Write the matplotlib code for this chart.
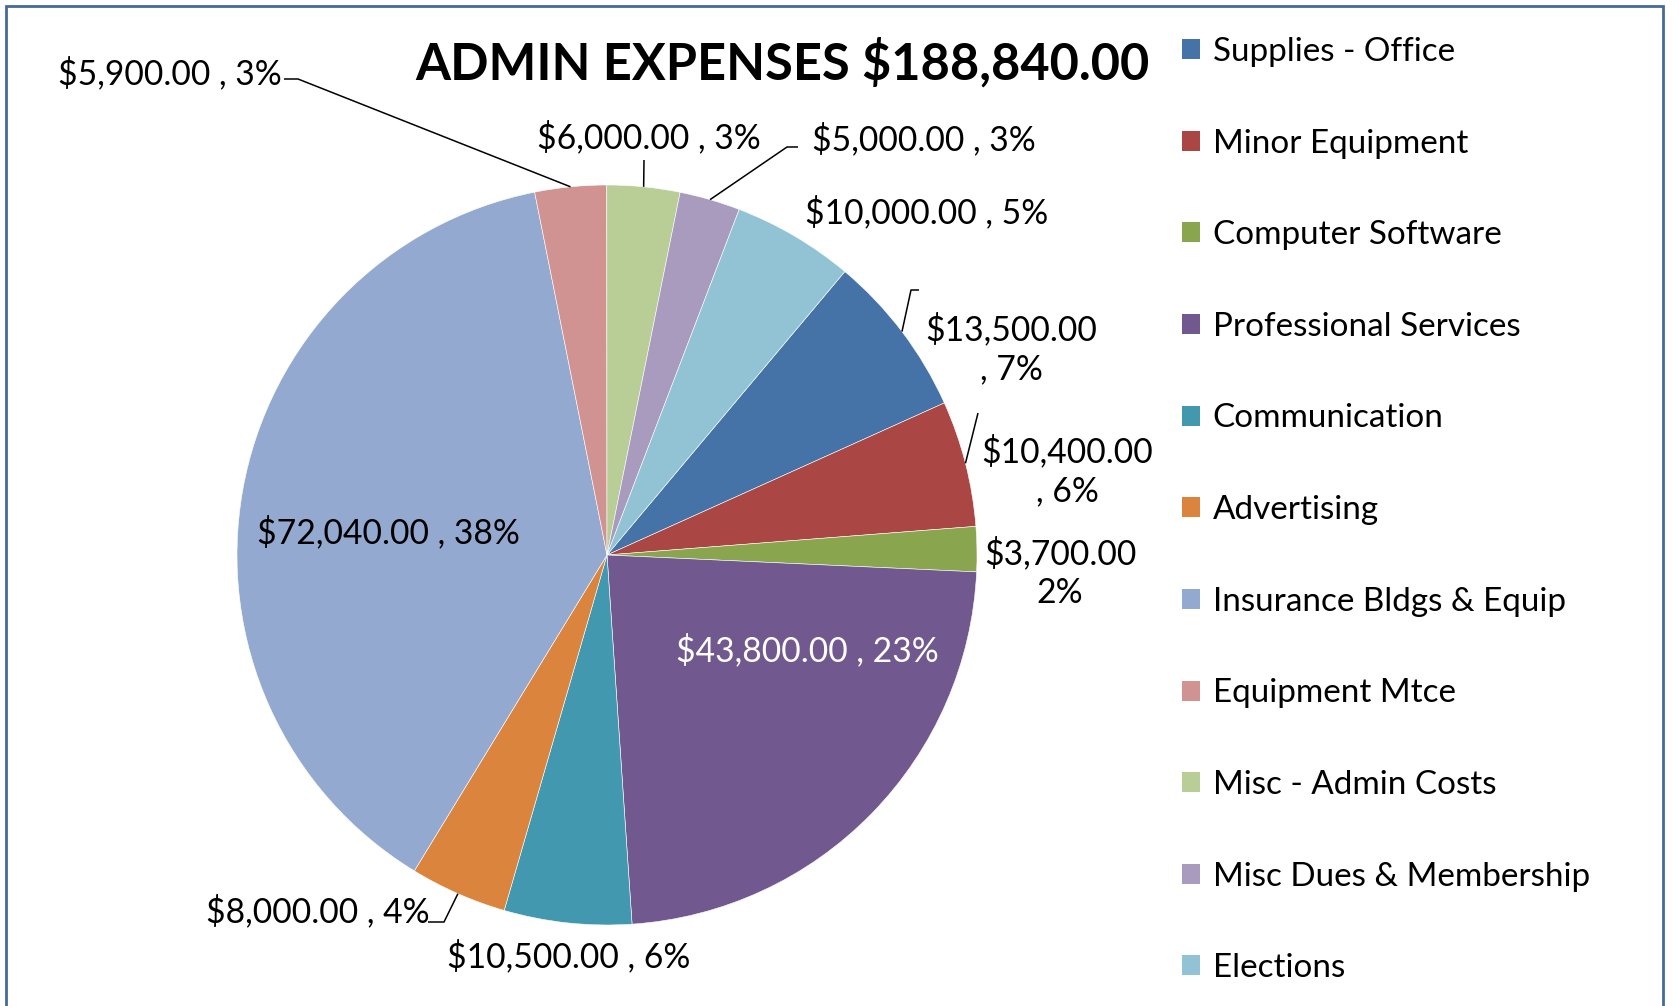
import matplotlib
matplotlib.use("Agg")
import matplotlib.pyplot as plt
from matplotlib.patches import Rectangle
import numpy as np

# ---------------- data ----------------
categories = ["Supplies - Office", "Minor Equipment", "Computer Software",
              "Professional Services", "Communication", "Advertising",
              "Insurance Bldgs & Equip", "Equipment Mtce", "Misc - Admin Costs",
              "Misc Dues & Membership", "Elections"]
values = [13500, 10400, 3700, 43800, 10500, 8000, 72040, 5900, 6000, 5000, 10000]
title_text = "ADMIN EXPENSES $188,840.00"

# ---------------- style / layout ----------------
colors = ["#4572A7", "#AA4643", "#89A54E", "#71588F", "#4198AF", "#DB843D",
          "#93A9CF", "#D19392", "#B9CD96", "#A99BBD", "#92C3D5"]
FONT = "Lato"
W, H = 1679, 1006
CX, CY, R = 607, 555, 370          # pie centre / radius in pixels (from top)
first_slice_angle = 40              # Excel "angle of first slice"

# label centre positions (pixels from top-left) and line breaks
label_pos = [(1011, 349), (1067, 471), (1060, 573), (807, 650), (569, 956),
             (318, 911), (388, 532), (170, 73), (649, 137), (924, 139), (927, 212)]
two_line = {0: "\n", 1: "\n", 2: "\n"}
label_color = ["black"] * 11
label_color[3] = "white"
# leader-line waypoints after the wedge edge point (pixels from top-left)
leaders = {0: [(911, 290), (919, 290)],
           1: [(978, 413)],
           5: [(444, 922), (428, 922)],
           7: [(298, 79), (284, 79)],
           8: [(644, 160)],
           9: [(787, 147), (798, 147)]}

plt.rcParams["font.family"] = [FONT, "DejaVu Sans"]

fig = plt.figure(figsize=(W / 100, H / 100), dpi=100)
ax = fig.add_axes([0, 0, 1, 1])


def P(px, py):
    return (px, H - py)


total = float(sum(values))
wedges, _ = ax.pie(values, colors=colors, startangle=90 - first_slice_angle,
                   counterclock=False, center=P(CX, CY), radius=R,
                   wedgeprops=dict(edgecolor="#ffffff", linewidth=0.4))
ax.set_xlim(0, W)
ax.set_ylim(0, H)
ax.set_aspect("equal")
ax.axis("off")

fig.canvas.draw()
renderer = fig.canvas.get_renderer()


def fit(t, target):
    for _ in range(3):
        w = t.get_window_extent(renderer).width
        t.set_fontsize(t.get_fontsize() * target / w)


# title
title = ax.text(*P(782, 63), title_text, ha="center", va="center",
                fontsize=34, fontweight="bold", color="black")
fit(title, 733)

# data labels
probe = ax.text(0, 0, "$5,900.00 , 3%", fontsize=24)
fit(probe, 222)
lab_fs = probe.get_fontsize()
probe.remove()

for i, v in enumerate(values):
    pct = int(round(100 * v / total))
    if i == 2:
        s = f"${v:,.2f}\n{pct}%"
    elif i in two_line:
        s = f"${v:,.2f}\n, {pct}%"
    else:
        s = f"${v:,.2f} , {pct}%"
    ax.text(*P(*label_pos[i]), s, ha="center", va="center", fontsize=lab_fs,
            color=label_color[i], linespacing=1.25, multialignment="center")

# leader lines
for i, pts in leaders.items():
    w = wedges[i]
    mid = np.deg2rad((w.theta1 + w.theta2) / 2)
    x0, y0 = w.center[0] + R * np.cos(mid), w.center[1] + R * np.sin(mid)
    xs = [x0] + [P(*p)[0] for p in pts]
    ys = [y0] + [P(*p)[1] for p in pts]
    ax.plot(xs, ys, color="black", linewidth=1.1, solid_capstyle="butt")

# legend
probe = ax.text(0, 0, "Supplies - Office", fontsize=24)
fit(probe, 242)
leg_fs = probe.get_fontsize()
probe.remove()
leg = ax.legend(wedges, categories, loc="upper left",
                bbox_to_anchor=(1182 / W, 1 - 37 / H), bbox_transform=fig.transFigure,
                frameon=False, fontsize=leg_fs, handlelength=0.55, handleheight=0.55,
                handletextpad=0.37, labelspacing=1.855, borderpad=0, borderaxespad=0)
for h in leg.legend_handles:
    h.set_edgecolor("none")

# outer border
ax.add_patch(Rectangle(P(6, H + 20), 1663 - 6, H + 14, fill=False,
                       edgecolor="#46699B", linewidth=2.0, clip_on=False))

fig.savefig("out.png", dpi=100)
